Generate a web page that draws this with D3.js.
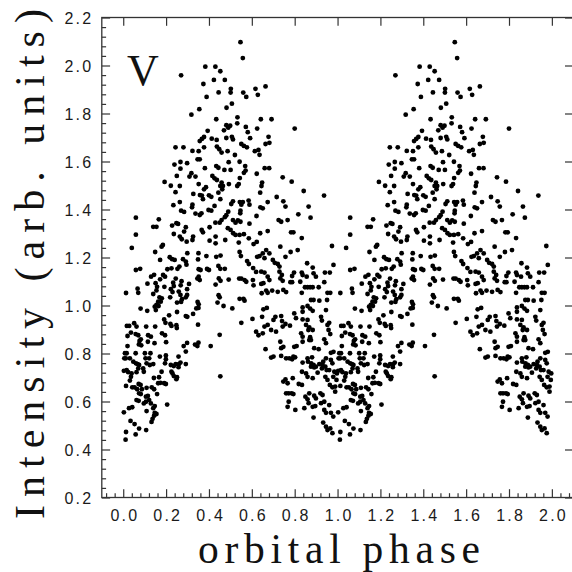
<!DOCTYPE html>
<html>
<head>
<meta charset="utf-8">
<script src="https://cdn.jsdelivr.net/npm/d3@7"></script>
<style>
  html, body { margin: 0; padding: 0; background: #fff; }
  svg { display: block; }
</style>
</head>
<body>
<svg id="chart" width="572" height="572"></svg>
<script>
// Folded V-band light curve: [orbital phase, intensity] for one cycle (0..1).
const observations = [
  [0.547,2.097],[0.558,2.031],[0.383,1.995],[0.430,1.995],[0.453,1.976],[0.270,1.959],[0.374,1.923],[0.423,1.940],
  [0.474,1.940],[0.664,1.913],[0.617,1.903],[0.502,1.903],[0.445,1.888],[0.501,1.887],[0.560,1.887],[0.574,1.869],
  [0.628,1.878],[0.389,1.869],[0.507,1.841],[0.482,1.824],[0.355,1.818],[0.318,1.795],[0.533,1.784],[0.434,1.776],
  [0.642,1.776],[0.692,1.776],[0.532,1.759],[0.481,1.751],[0.499,1.749],[0.490,1.741],[0.470,1.730],[0.572,1.744],
  [0.625,1.737],[0.394,1.728],[0.581,1.722],[0.377,1.702],[0.367,1.694],[0.357,1.685],[0.413,1.695],[0.481,1.698],
  [0.507,1.703],[0.512,1.692],[0.592,1.697],[0.436,1.690],[0.678,1.703],[0.682,1.678],[0.551,1.673],[0.563,1.665],
  [0.577,1.659],[0.664,1.673],[0.244,1.659],[0.281,1.659],[0.437,1.662],[0.448,1.651],[0.459,1.637],[0.323,1.644],
  [0.352,1.643],[0.377,1.659],[0.487,1.643],[0.614,1.643],[0.631,1.648],[0.636,1.628],[0.521,1.627],[0.347,1.609],
  [0.357,1.609],[0.267,1.598],[0.239,1.587],[0.298,1.593],[0.492,1.597],[0.543,1.599],[0.434,1.581],[0.444,1.574],
  [0.569,1.581],[0.571,1.562],[0.563,1.553],[0.381,1.572],[0.472,1.565],[0.501,1.565],[0.267,1.570],[0.660,1.572],
  [0.681,1.572],[0.623,1.549],[0.250,1.540],[0.318,1.551],[0.309,1.537],[0.337,1.537],[0.416,1.540],[0.426,1.530],
  [0.437,1.523],[0.352,1.506],[0.544,1.531],[0.744,1.534],[0.193,1.515],[0.222,1.499],[0.264,1.498],[0.386,1.493],
  [0.377,1.484],[0.459,1.512],[0.465,1.498],[0.453,1.498],[0.462,1.484],[0.444,1.470],[0.539,1.506],[0.532,1.498],
  [0.493,1.506],[0.648,1.512],[0.645,1.498],[0.244,1.472],[0.327,1.465],[0.358,1.460],[0.367,1.458],[0.400,1.459],
  [0.411,1.453],[0.639,1.470],[0.716,1.452],[0.372,1.443],[0.453,1.443],[0.512,1.434],[0.504,1.423],[0.544,1.431],
  [0.558,1.431],[0.551,1.420],[0.585,1.437],[0.589,1.420],[0.674,1.431],[0.747,1.434],[0.757,1.412],[0.234,1.418],
  [0.264,1.431],[0.323,1.420],[0.321,1.409],[0.426,1.415],[0.270,1.395],[0.284,1.390],[0.365,1.384],[0.357,1.377],
  [0.398,1.398],[0.411,1.395],[0.337,1.383],[0.490,1.391],[0.481,1.376],[0.474,1.368],[0.547,1.395],[0.546,1.384],
  [0.640,1.409],[0.651,1.405],[0.622,1.373],[0.459,1.356],[0.450,1.345],[0.512,1.356],[0.524,1.345],[0.535,1.355],
  [0.547,1.349],[0.589,1.341],[0.725,1.356],[0.737,1.349],[0.767,1.356],[0.228,1.333],[0.248,1.343],[0.256,1.340],
  [0.292,1.326],[0.284,1.308],[0.403,1.326],[0.430,1.345],[0.366,1.315],[0.372,1.305],[0.488,1.322],[0.501,1.315],
  [0.513,1.301],[0.524,1.294],[0.543,1.294],[0.563,1.297],[0.639,1.301],[0.674,1.310],[0.236,1.298],[0.264,1.287],
  [0.273,1.276],[0.323,1.273],[0.326,1.287],[0.403,1.270],[0.431,1.287],[0.431,1.259],[0.476,1.273],[0.539,1.262],
  [0.586,1.280],[0.608,1.256],[0.623,1.265],[0.185,1.252],[0.179,1.245],[0.296,1.266],[0.667,1.231],[0.682,1.217],
  [0.543,1.223],[0.549,1.206],[0.454,1.208],[0.434,1.203],[0.388,1.206],[0.349,1.192],[0.351,1.218],[0.299,1.218],
  [0.217,1.201],[0.228,1.193],[0.240,1.190],[0.279,1.193],[0.292,1.183],[0.578,1.185],[0.586,1.173],[0.625,1.203],
  [0.636,1.206],[0.651,1.217],[0.659,1.197],[0.698,1.190],[0.707,1.178],[0.721,1.173],[0.729,1.162],[0.757,1.203],
  [0.733,1.245],
  [0.059,1.366],[0.166,1.359],[0.140,1.328],[0.155,1.328],[0.059,1.295],[0.040,1.240],[0.149,1.223],[0.059,1.148],
  [0.079,1.153],[0.172,1.190],[0.130,1.120],[0.144,1.128],[0.113,1.091],[0.067,1.070],[0.070,1.053],[0.013,1.052],
  [0.151,1.093],[0.158,1.078],[0.140,1.048],[0.155,1.063],[0.169,1.034],[0.163,1.016],[0.155,1.002],[0.081,0.987],
  [0.112,0.978],[0.147,0.995],[0.017,0.915],[0.028,0.915],[0.051,0.926],[0.062,0.912],[0.036,0.887],[0.020,0.873],
  [0.058,0.881],[0.070,0.876],[0.107,0.912],[0.116,0.876],[0.129,0.870],[0.149,0.912],[0.082,0.859],
  [0.186,1.127],[0.195,1.120],[0.206,1.151],[0.225,1.155],[0.253,1.153],[0.262,1.162],[0.295,1.170],[0.352,1.151],
  [0.361,1.148],[0.352,1.120],[0.391,1.152],[0.400,1.148],[0.346,1.112],[0.357,1.106],[0.444,1.165],[0.453,1.153],
  [0.474,1.153],[0.541,1.112],[0.551,1.112],[0.566,1.106],[0.574,1.099],[0.606,1.156],[0.620,1.140],[0.605,1.106],
  [0.172,1.109],[0.245,1.112],[0.233,1.095],[0.236,1.081],[0.272,1.101],[0.268,1.084],[0.298,1.068],[0.307,1.090],
  [0.259,1.058],[0.267,1.044],[0.222,1.068],[0.230,1.056],[0.192,1.078],[0.180,1.030],[0.175,1.016],[0.165,0.998],
  [0.152,0.981],[0.219,1.034],[0.274,1.026],[0.270,1.015],[0.251,1.012],[0.292,1.034],[0.298,1.044],[0.347,1.015],
  [0.352,1.005],[0.341,0.988],[0.351,0.990],[0.326,0.965],[0.292,0.956],[0.299,0.953],[0.251,0.973],[0.214,0.959],
  [0.191,0.942],[0.197,0.928],[0.220,0.923],[0.225,0.915],[0.248,0.918],[0.250,0.906],[0.181,0.884],[0.195,0.876],
  [0.349,0.920],[0.446,1.113],[0.454,1.103],[0.431,1.087],[0.492,1.108],[0.445,1.043],[0.450,1.034],[0.440,1.012],
  [0.468,0.998],[0.509,0.988],[0.543,1.028],[0.561,1.028],[0.566,1.020],[0.551,0.928],[0.603,0.944],[0.631,0.876],
  [0.450,0.878],[0.608,1.084],
  [0.020,0.831],[0.076,0.852],[0.084,0.834],[0.115,0.849],[0.146,0.843],[0.200,0.847],[0.073,0.838],[0.008,0.801],
  [0.016,0.801],[0.012,0.780],[0.005,0.780],[0.031,0.780],[0.058,0.801],[0.101,0.801],[0.127,0.801],[0.104,0.780],
  [0.121,0.780],[0.171,0.787],[0.199,0.792],[0.199,0.776],[0.195,0.759],[0.258,0.787],[0.292,0.808],[0.298,0.844],
  [0.282,0.831],[0.335,0.837],[0.346,0.831],[0.351,0.845],[0.408,0.831],[0.047,0.766],[0.059,0.759],[0.074,0.752],
  [0.070,0.738],[0.067,0.756],[0.093,0.738],[0.096,0.724],[0.109,0.759],[0.124,0.752],[0.140,0.756],[0.003,0.728],
  [0.016,0.731],[0.023,0.722],[0.039,0.717],[0.036,0.703],[0.062,0.722],[0.222,0.752],[0.236,0.748],[0.245,0.756],
  [0.260,0.756],[0.258,0.743],[0.267,0.762],[0.292,0.756],[0.179,0.724],[0.225,0.724],[0.230,0.717],[0.236,0.706],
  [0.248,0.693],[0.251,0.701],[0.013,0.665],[0.031,0.687],[0.042,0.659],[0.053,0.659],[0.072,0.673],[0.081,0.669],
  [0.065,0.651],[0.143,0.698],[0.167,0.701],[0.163,0.676],[0.174,0.678],[0.191,0.676],[0.199,0.673],[0.133,0.659],
  [0.144,0.651],[0.109,0.657],[0.087,0.651],[0.074,0.634],[0.082,0.631],[0.158,0.631],[0.062,0.606],[0.072,0.603],
  [0.106,0.620],[0.115,0.623],[0.096,0.592],[0.106,0.599],[0.121,0.606],[0.129,0.592],[0.147,0.581],[0.140,0.572],
  [0.003,0.555],[0.027,0.572],[0.042,0.576],[0.205,0.587],[0.109,0.560],[0.147,0.553],[0.155,0.548],[0.144,0.541],
  [0.137,0.528],[0.132,0.515],[0.034,0.519],[0.053,0.506],[0.074,0.487],[0.107,0.481],[0.058,0.463],[0.013,0.473],
  [0.011,0.441],[0.453,0.705],
  [0.800,1.737],[0.786,1.516],[0.842,1.477],[0.937,1.458],[0.865,1.412],[0.817,1.380],[0.874,1.366],[0.783,1.305],
  [0.794,1.305],[0.833,1.281],
  [0.974,1.248],[0.781,1.223],[0.814,1.231],[0.858,1.176],[0.884,1.158],[0.888,1.134],[0.833,1.137],[0.837,1.127],
  [0.788,1.123],[0.797,1.137],[0.780,1.097],[0.788,1.097],[0.941,1.137],[0.964,1.137],[0.938,1.097],[0.981,1.169],
  [0.826,1.099],[0.848,1.076],[0.860,1.076],[0.872,1.076],[0.833,1.053],[0.953,1.053],[0.966,1.053],[0.747,1.065],
  [0.760,1.056],[0.721,1.057],[0.644,1.141],[0.659,1.137],[0.674,1.120],[0.682,1.106],[0.654,1.093],[0.644,1.090],
  [0.667,1.062],[0.674,1.053],[0.646,1.051],[0.729,1.141],[0.740,1.127],[0.733,1.113],[0.744,1.103],[0.695,1.062],
  [0.837,0.992],[0.860,0.998],[0.872,0.987],[0.837,0.974],[0.884,0.978],[0.915,1.020],[0.951,1.023],[0.946,0.981],
  [0.670,0.990],[0.654,0.984],[0.648,0.953],[0.710,0.953],[0.737,0.956],[0.741,0.935],[0.798,0.967],[0.806,0.947],
  [0.778,0.916],[0.837,0.942],[0.860,0.940],[0.853,0.919],[0.868,0.909],[0.864,0.898],[0.923,0.953],[0.927,0.937],
  [0.953,0.919],[0.961,0.928],[0.884,0.898],[0.958,0.898],[0.966,0.881],[0.830,0.884],[0.837,0.870],[0.872,0.868],
  [0.876,0.856],[0.938,0.859],[0.946,0.843],[0.737,0.822],[0.798,0.828],[0.809,0.831],[0.664,0.818],[0.690,0.783],
  [0.701,0.787],[0.737,0.790],[0.760,0.780],[0.775,0.780],[0.794,0.787],[0.837,0.762],[0.860,0.780],[0.881,0.784],
  [0.891,0.822],[0.912,0.818],[0.969,0.803],[0.981,0.807],[0.946,0.780],[0.933,0.766],[0.930,0.752],[0.943,0.745],
  [0.961,0.731],[0.985,0.724],[0.997,0.717],[0.969,0.773],[0.976,0.759],[0.915,0.756],[0.927,0.738],[0.876,0.745],
  [0.891,0.742],[0.907,0.720],[0.853,0.717],[0.860,0.703],[0.884,0.697],[0.943,0.703],[0.953,0.690],[0.980,0.703],
  [0.995,0.690],[0.964,0.669],[0.976,0.659],[0.989,0.662],[0.920,0.634],[0.930,0.627],[0.989,0.641],[0.891,0.624],
  [0.899,0.613],[0.860,0.609],[0.865,0.593],[0.884,0.578],[0.896,0.581],[0.923,0.593],[0.938,0.599],[0.961,0.585],
  [0.845,0.572],[0.969,0.553],[0.980,0.537],[0.933,0.512],[0.946,0.495],[0.953,0.481],[0.966,0.488],[0.976,0.468],
  [0.888,0.533],[0.803,0.565],[0.760,0.634],[0.772,0.634],[0.786,0.634],[0.794,0.631],[0.772,0.599],[0.767,0.578],
  [0.747,0.683],[0.767,0.676],[0.757,0.692],[0.819,0.673],[0.834,0.669],[0.850,0.620],[0.868,0.634],[0.938,0.565],
  [0.946,0.553],[0.834,0.724],[0.791,0.697],
  [0.788,0.776],[0.802,0.784],[0.862,0.766],[0.877,0.759],[0.888,0.752],[0.899,0.745],[0.949,0.731],[0.837,0.849],
  [0.868,0.856],[0.733,0.849],[0.747,0.828],[0.651,0.884],[0.659,0.912],[0.674,0.919],[0.701,0.940],[0.690,0.898],
  [0.713,0.891],[0.744,0.912],[0.757,0.923],[0.620,0.891],[0.899,1.120],[0.856,1.120],[0.884,1.076],[0.912,1.076],
  [0.876,1.023],[0.888,1.023]
];

// The cycle is plotted twice: phase and phase + 1.
const cycleOffsets = [0, 1];

const xTicks = [0.0, 0.2, 0.4, 0.6, 0.8, 1.0, 1.2, 1.4, 1.6, 1.8, 2.0];
const yTicks = [0.2, 0.4, 0.6, 0.8, 1.0, 1.2, 1.4, 1.6, 1.8, 2.0, 2.2];
const xMinorStep = 0.04;
const yMinorStep = 0.04;

const xTitle = "orbital phase";
const yTitle = "Intensity (arb. units)";
const bandLabel = "V";

const svg = d3.select("#chart");
const x = d3.scaleLinear().domain([-0.1, 2.1]).range([101.8, 573.3]);
const y = d3.scaleLinear().domain([0.2, 2.2]).range([497.5, 17.5]);

const isMajor = (v, step) => Math.abs(v / step - Math.round(v / step)) < 1e-6;
const xMinor = d3.range(-0.08, 2.1, xMinorStep).filter(v => !isMajor(v, 0.2));
const yMinor = d3.range(0.24, 2.2, yMinorStep).filter(v => !isMajor(v, 0.2));

const axisColor = "#333";
const labelFont = "'Liberation Sans', Arial, sans-serif";
const titleFont = "'Liberation Serif', 'Times New Roman', serif";

function styleAxis(g) {
  g.select(".domain").remove();
  g.selectAll(".tick line").attr("stroke", axisColor).attr("stroke-width", 1.2);
  g.selectAll(".tick text")
    .attr("fill", "#1a1a1a")
    .style("font-family", labelFont)
    .style("font-size", "16px")
    .style("letter-spacing", "2.2px");
}
// tick marks without labels
function bareTicks(g) {
  styleAxis(g);
  g.selectAll(".tick text").remove();
}

// bottom axis: labelled majors, short minors
svg.append("g")
  .attr("transform", `translate(0,${y(0.2)})`)
  .call(d3.axisBottom(x).tickValues(xTicks).tickSize(-8.3).tickPadding(11.8).tickFormat(d3.format(".1f")))
  .call(styleAxis)
  .call(g => g.selectAll(".tick text").attr("dx", "1.1px"));
svg.append("g")
  .attr("transform", `translate(0,${y(0.2)})`)
  .call(d3.axisBottom(x).tickValues(xMinor).tickSize(-4.3))
  .call(bareTicks);

// top axis: majors only
svg.append("g")
  .attr("transform", `translate(0,${y(2.2)})`)
  .call(d3.axisTop(x).tickValues(xTicks).tickSize(-8.3))
  .call(bareTicks);

// left axis: labelled majors, short minors
svg.append("g")
  .attr("transform", `translate(${x(-0.1)},0)`)
  .call(d3.axisLeft(y).tickValues(yTicks).tickSize(-8.3).tickPadding(8.5).tickFormat(d3.format(".1f")))
  .call(styleAxis)
  .call(g => g.selectAll(".tick text").attr("dy", "0.4em"));
svg.append("g")
  .attr("transform", `translate(${x(-0.1)},0)`)
  .call(d3.axisLeft(y).tickValues(yMinor).tickSize(-4.3))
  .call(bareTicks);

// right axis: majors only
svg.append("g")
  .attr("transform", `translate(${x(2.1)},0)`)
  .call(d3.axisRight(y).tickValues(yTicks).tickSize(-8.3))
  .call(bareTicks);

// frame
svg.append("rect")
  .attr("x", x(-0.1)).attr("y", y(2.2))
  .attr("width", x(2.1) - x(-0.1)).attr("height", y(0.2) - y(2.2))
  .attr("fill", "none").attr("stroke", axisColor).attr("stroke-width", 1.3);

// data points, both cycles
const folded = cycleOffsets.flatMap(k => observations.map(([p, v]) => ({ phase: p + k, value: v })));
svg.append("g")
  .selectAll("circle")
  .data(folded)
  .join("circle")
  .attr("cx", d => x(d.phase))
  .attr("cy", d => y(d.value))
  .attr("r", 2.4)
  .attr("fill", "#000");

// band label
svg.append("text")
  .attr("x", 127).attr("y", 85)
  .style("font-family", titleFont)
  .style("font-size", "44px")
  .attr("fill", "#111")
  .text(bandLabel);

// axis titles
svg.append("text")
  .attr("x", 339).attr("y", 562.8)
  .attr("text-anchor", "middle")
  .attr("textLength", 282).attr("lengthAdjust", "spacing")
  .style("font-family", titleFont)
  .style("font-size", "41.5px")
  .attr("fill", "#111")
  .text(xTitle);

svg.append("text")
  .attr("transform", "translate(44,264) rotate(-90)")
  .attr("text-anchor", "middle")
  .attr("textLength", 510).attr("lengthAdjust", "spacing")
  .style("font-family", titleFont)
  .style("font-size", "42px")
  .attr("fill", "#111")
  .text(yTitle);
</script>
</body>
</html>
